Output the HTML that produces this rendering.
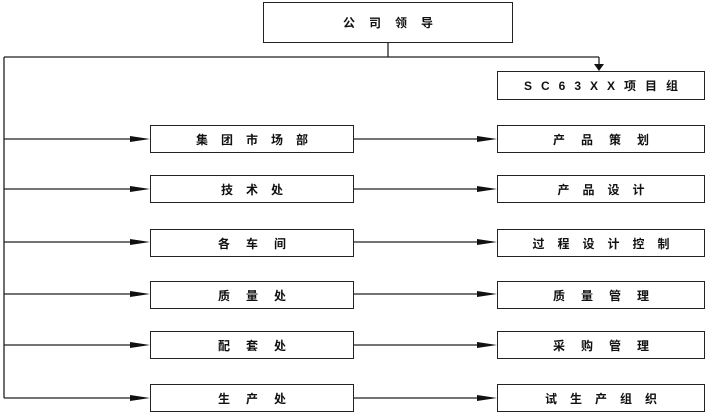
<!DOCTYPE html>
<html><head><meta charset="utf-8"><style>
body{margin:0;width:706px;height:416px;background:#fff;position:relative;overflow:hidden;font-family:"Liberation Sans","Noto Sans CJK SC",sans-serif}
.b{position:absolute;border:1.5px solid #222;box-sizing:border-box;display:flex;align-items:center;justify-content:center;font-size:12px;font-weight:bold;color:#111;background:#fff}
.l{left:150px;width:204px;height:28px}
.r{left:497px;width:208px;height:28px}
.s13{letter-spacing:13px;padding-left:13px}
.s16{letter-spacing:16px;padding-left:16px}
svg{position:absolute;left:0;top:0}
</style></head><body>
<svg width="706" height="416">
<g stroke="#222" stroke-width="1.3" fill="none">
<line x1="388" y1="42" x2="388" y2="57"/>
<line x1="4" y1="57" x2="599" y2="57"/>
<line x1="599" y1="57" x2="599" y2="66"/>
<line x1="4" y1="57" x2="4" y2="398"/>
<line x1="4" y1="139" x2="140" y2="139"/><line x1="354" y1="139" x2="487" y2="139"/>
<line x1="4" y1="189" x2="140" y2="189"/><line x1="354" y1="189" x2="487" y2="189"/>
<line x1="4" y1="242" x2="140" y2="242"/><line x1="354" y1="242" x2="487" y2="242"/>
<line x1="4" y1="294" x2="140" y2="294"/><line x1="354" y1="294" x2="487" y2="294"/>
<line x1="4" y1="345" x2="140" y2="345"/><line x1="354" y1="345" x2="487" y2="345"/>
<line x1="4" y1="398" x2="140" y2="398"/><line x1="354" y1="398" x2="487" y2="398"/>
</g>
<g fill="#111">
<polygon points="594,64 604,64 599,71"/>
<polygon points="130,136 150,139 130,142"/><polygon points="477,136 497,139 477,142"/>
<polygon points="130,186 150,189 130,192"/><polygon points="477,186 497,189 477,192"/>
<polygon points="130,239 150,242 130,245"/><polygon points="477,239 497,242 477,245"/>
<polygon points="130,291 150,294 130,297"/><polygon points="477,291 497,294 477,297"/>
<polygon points="130,342 150,345 130,348"/><polygon points="477,342 497,345 477,348"/>
<polygon points="130,395 150,398 130,401"/><polygon points="477,395 497,398 477,401"/>
</g>
</svg>
<div class="b" style="left:263px;top:2px;width:250px;height:41px;letter-spacing:14px;padding-left:14px">公司领导</div>
<div class="b" style="left:497px;top:71px;width:208px;height:29px;letter-spacing:9px;padding-left:9px">SC63XX项目组</div>
<div class="b l s13" style="top:125px">集团市场部</div>
<div class="b r s16" style="top:125px">产品策划</div>
<div class="b l s13" style="top:175px">技术处</div>
<div class="b r s13" style="top:175px">产品设计</div>
<div class="b l s16" style="top:229px">各车间</div>
<div class="b r s13" style="top:229px">过程设计控制</div>
<div class="b l s16" style="top:281px">质量处</div>
<div class="b r s16" style="top:281px">质量管理</div>
<div class="b l s16" style="top:331px">配套处</div>
<div class="b r s16" style="top:331px">采购管理</div>
<div class="b l s16" style="top:384px">生产处</div>
<div class="b r s13" style="top:384px">试生产组织</div>
</body></html>
